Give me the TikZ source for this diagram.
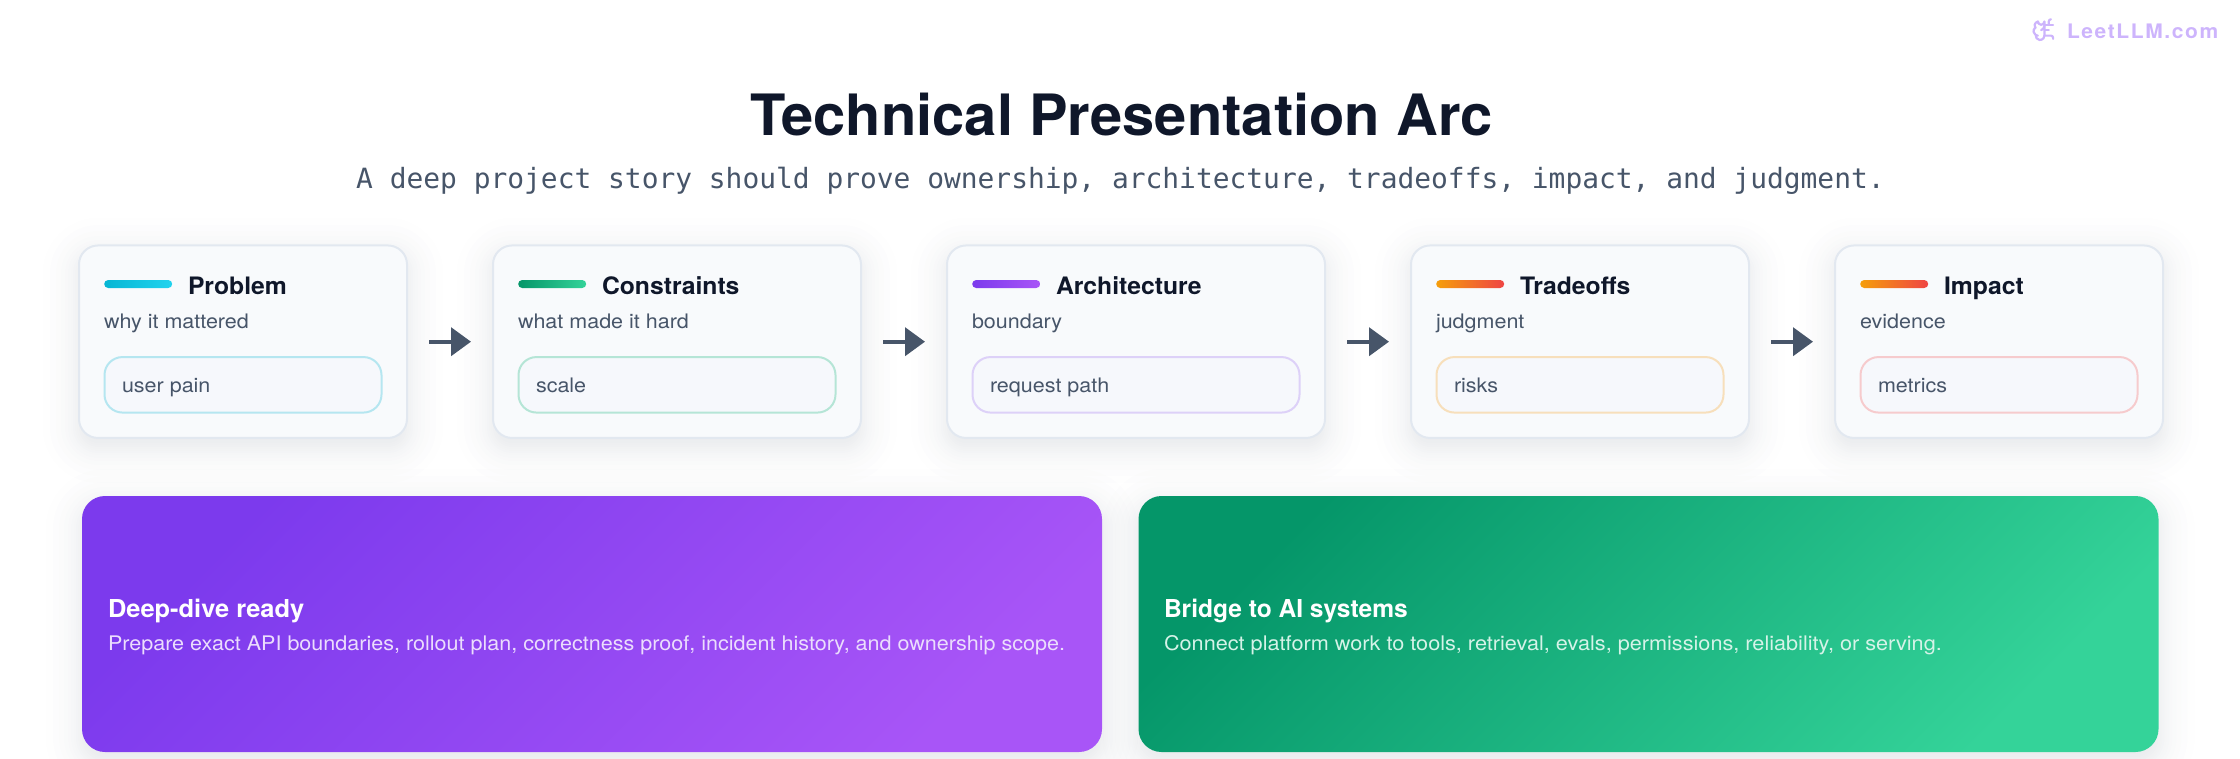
\documentclass[tikz,border=0pt]{standalone}
\usepackage{fontspec}
\usetikzlibrary{arrows.meta,svg.path}
\newfontfamily\ifR[FakeStretch=1.075]{TeX Gyre Heros}
\newfontfamily\ifB[FakeStretch=1.03]{TeX Gyre Heros Bold}
\newfontfamily\ifT[FakeStretch=1.015]{TeX Gyre Heros Bold}
\newfontfamily\ifW[LetterSpace=8,FakeStretch=1.05]{TeX Gyre Heros Bold}
\newfontfamily\ifM{DejaVu Sans Mono}
\definecolor{ink}{HTML}{0F172A}
\definecolor{slate}{HTML}{475569}
\definecolor{cardfill}{HTML}{F8FAFC}
\definecolor{cardline}{HTML}{E2E8F0}
\definecolor{tagfill}{HTML}{F6F8FC}
\definecolor{wm}{HTML}{CDB4FC}
\definecolor{cyanA}{HTML}{06B6D4}\definecolor{cyanB}{HTML}{22D3EE}
\definecolor{greenA}{HTML}{059669}\definecolor{greenB}{HTML}{34D399}
\definecolor{purpA}{HTML}{7C3AED}\definecolor{purpB}{HTML}{A855F7}
\definecolor{oranA}{HTML}{F59E0B}\definecolor{oranB}{HTML}{EF4444}
\definecolor{tagC}{HTML}{B5E6F0}\definecolor{tagG}{HTML}{B5E5D6}
\definecolor{tagP}{HTML}{DDD1F8}\definecolor{tagO}{HTML}{F7DFBB}
\definecolor{tagR}{HTML}{F6CBCD}
\definecolor{subP}{HTML}{EBDDFD}\definecolor{subG}{HTML}{D5F3E8}
\tikzset{
 x=1pt,y=-1pt,
 cardbox/.style={draw=cardline,fill=cardfill,line width=2pt,rounded corners=19pt,inner sep=0pt},
 tagbox/.style={fill=tagfill,line width=2pt,rounded corners=18pt,inner sep=0pt},
 barbox/.style={rounded corners=4pt,inner sep=0pt,minimum height=8pt,minimum width=68pt,draw=none},
 panelbox/.style={rounded corners=23pt,inner sep=0pt,draw=none},
 lab/.style={anchor=base west,inner sep=0pt,outer sep=0pt},
 cardtitle/.style={lab,text=ink,font=\ifB\fontsize{24}{28}\selectfont},
 cardsub/.style={lab,text=slate,font=\ifR\fontsize{20}{24}\selectfont},
 panelsub/.style={lab,font=\ifR\fontsize{20.1}{24}\selectfont},
 paneltitle/.style={lab,text=white,font=\ifB\fontsize{24.7}{28}\selectfont},
 flow/.style={draw=slate,line width=4pt,shorten <=21pt,shorten >=21pt,-{Triangle[length=20pt,width=28pt]}},
 shadowlayer/.style={fill=slate,draw=none,fill opacity=0.0085},
 brain/.style={draw=wm,line width=2.2pt,line cap=round,line join=round}
}
\newcommand{\softshadow}[5]{% x1 y1 x2 y2 r
 \foreach \e in {36,29,23,18,14,11,8,6,4,2,0,-2,-4,-7}{
  \pgfmathsetmacro{\rr}{max(#5+\e,3)}
  \fill[shadowlayer,rounded corners=\rr pt] (#1-\e,#2-\e+9) rectangle (#3+\e,#4+\e+9);
 }}
\newcommand{\cardfull}[9]{% id x1 x2 colA colB tagcol title sub tag
 \pgfmathsetmacro{\cx}{(#2+#3)/2}
 \pgfmathsetmacro{\cw}{#3-#2}
 \pgfmathsetmacro{\tw}{#3-#2-51}
 \node[cardbox,minimum width=\cw pt,minimum height=192.5pt] (c#1) at (\cx,341.7) {};
 \node[barbox,left color=#4,right color=#5,anchor=west] (bar#1) at (#2+25,284) {};
 \node[cardtitle] (title#1) at (#2+109,294.5) {#7};
 \node[cardsub] (sub#1) at (#2+25,328) {#8};
 \node[tagbox,draw=#6,minimum width=\tw pt,minimum height=55.5pt] (tag#1) at (\cx,384.8) {};
 \node[cardsub] (tagtext#1) at (#2+43,392.5) {#9};
}
\begin{document}
\begin{tikzpicture}
\useasboundingbox (0,0) rectangle (2240,758);
\softshadow{79}{245}{407}{438}{19}
\softshadow{493}{245}{861}{438}{19}
\softshadow{947}{245}{1325}{438}{19}
\softshadow{1411}{245}{1749}{438}{19}
\softshadow{1835}{245}{2163}{438}{19}
\softshadow{82}{496}{1102}{752}{23}
\softshadow{1138.5}{496}{2158.5}{752}{23}

\node[lab,text=wm,font=\ifW\fontsize{20}{24}\selectfont] (wmark) at (2067,38) {LeetLLM.com};
\begin{scope}[shift={(2031.3,16)},scale=1.09,yscale=-1]
 \draw[brain] svg {M 12 5 a 3 3 0 1 0 -5.997 0.125 a 4 4 0 0 0 -2.526 5.77 a 4 4 0 0 0 0.556 6.588 A 4 4 0 1 0 12 18 Z};
 \draw[brain] svg {M 9 13 a 4.5 4.5 0 0 0 3 -4};
 \draw[brain] svg {M 6.003 5.125 A 3 3 0 0 0 6.401 6.5};
 \draw[brain] svg {M 3.477 10.896 a 4 4 0 0 1 0.585 -0.396};
 \draw[brain] svg {M 6 18 a 4 4 0 0 1 -1.967 -0.516};
 \draw[brain] svg {M 12 13 h 4};
 \draw[brain] svg {M 12 18 h 6 a 2 2 0 0 1 2 2 v 1};
 \draw[brain] svg {M 12 8 h 8};
 \draw[brain] svg {M 16 8 V 5 a 2 2 0 0 1 2 -2};
\end{scope}

\node[anchor=base,inner sep=0pt,text=ink,font=\ifT\fontsize{57}{64}\selectfont] (maintitle) at (1121.5,135.5) {Technical Presentation Arc};
\node[anchor=base,inner sep=0pt,text=slate,font=\ifM\fontsize{27.9}{32}\selectfont] (subtitle) at (1120.5,188) {A deep project story should prove ownership, architecture, tradeoffs, impact, and judgment.};

\cardfull{1}{79}{407}{cyanA}{cyanB}{tagC}{Problem}{why it mattered}{user pain}
\cardfull{2}{493}{861}{greenA}{greenB}{tagG}{Constraints}{what made it hard}{scale}
\cardfull{3}{947}{1325}{purpA}{purpB}{tagP}{Architecture}{boundary}{request path}
\cardfull{4}{1411}{1749}{oranA}{oranB}{tagO}{Tradeoffs}{judgment}{risks}
\cardfull{5}{1835}{2163}{oranA}{oranB}{tagR}{Impact}{evidence}{metrics}

\draw[flow] (c1) -- (c2);
\draw[flow] (c2) -- (c3);
\draw[flow] (c3) -- (c4);
\draw[flow] (c4) -- (c5);

\node[panelbox,bottom color=purpA,top color=purpB,shading angle=225,minimum width=1020pt,minimum height=256pt] (p1) at (592,624) {};
\node[panelbox,bottom color=greenA,top color=greenB,shading angle=225,minimum width=1020pt,minimum height=256pt] (p2) at (1648.5,624) {};
\node[paneltitle] (pt1) at (108,617) {Deep-dive ready};
\node[panelsub,text=subP] (ps1) at (108,650) {\scalebox{0.997}[1]{Prepare exact API boundaries, rollout plan, correctness proof, incident history, and ownership scope.}};
\node[paneltitle] (pt2) at (1164,617) {\scalebox{0.965}[1]{Bridge to AI systems}};
\node[panelsub,text=subG] (ps2) at (1164,650) {\scalebox{1.003}[1]{Connect platform work to tools, retrieval, evals, permissions, reliability, or serving.}};
\end{tikzpicture}
\end{document}
